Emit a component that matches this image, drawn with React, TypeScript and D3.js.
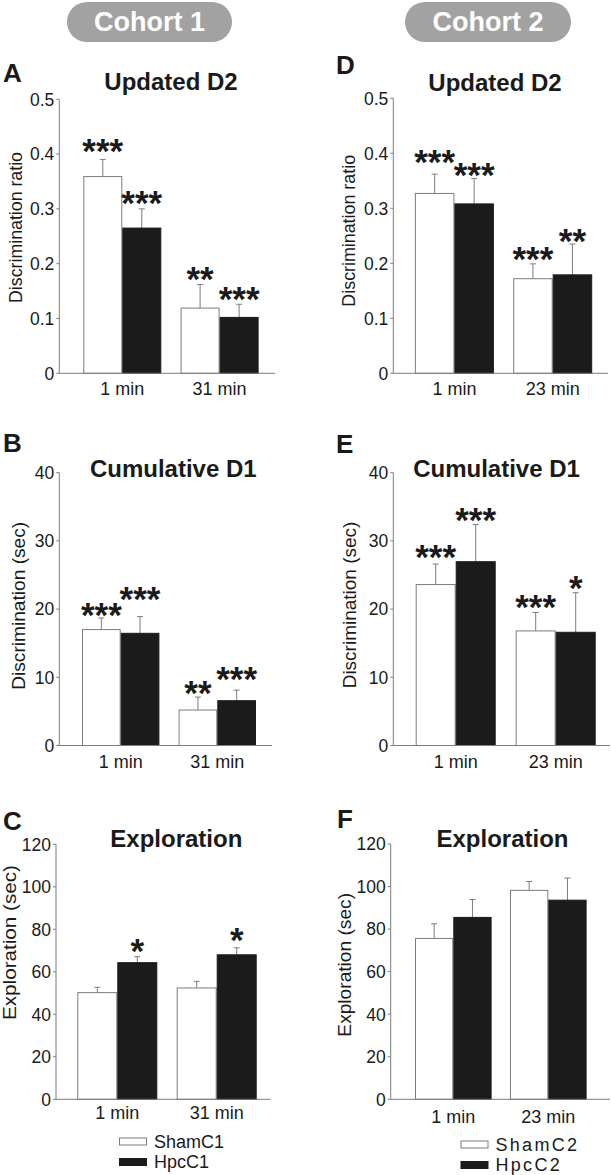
import React from "react";
import * as d3 from "d3";

// ---------- DATA ----------
const groupsCohort1 = ["1 min", "31 min"];
const groupsCohort2 = ["1 min", "23 min"];
const legendCohort1 = ["ShamC1", "HpcC1"];
const legendCohort2 = ["ShamC2", "HpcC2"];

// A: Updated D2 (cohort 1)
const shamA = [0.359, 0.119];
const shamErrA = [0.031, 0.043];
const hpcA = [0.265, 0.102];
const hpcErrA = [0.035, 0.024];
const shamSigA = ["***", "**"];
const hpcSigA = ["***", "***"];
const shamStarA = [0.4166, 0.183];
const hpcStarA = [0.3217, 0.1466];

// B: Cumulative D1 (cohort 1)
const shamB = [17.0, 5.2];
const shamErrB = [1.7, 1.9];
const hpcB = [16.45, 6.57];
const hpcErrB = [2.45, 1.55];
const shamSigB = ["***", "**"];
const hpcSigB = ["***", "***"];
const shamStarB = [20.0, 8.6];
const hpcStarB = [22.4, 10.7];

// C: Exploration (cohort 1)
const shamC = [50.2, 52.4];
const shamErrC = [2.5, 3.1];
const hpcC = [64.3, 68.0];
const hpcErrC = [2.8, 3.3];
const shamSigC = ["", ""];
const hpcSigC = ["*", "*"];
const shamStarC = [0, 0];
const hpcStarC = [72.6, 78.1];

// D: Updated D2 (cohort 2)
const shamD = [0.327, 0.172];
const shamErrD = [0.035, 0.027];
const hpcD = [0.308, 0.179];
const hpcErrD = [0.046, 0.056];
const shamSigD = ["***", "***"];
const hpcSigD = ["***", "**"];
const shamStarD = [0.395, 0.2195];
const hpcStarD = [0.371, 0.2524];

// E: Cumulative D1 (cohort 2)
const shamE = [23.6, 16.8];
const shamErrE = [3.0, 2.7];
const hpcE = [26.95, 16.6];
const hpcErrE = [5.45, 5.8];
const shamSigE = ["***", "***"];
const hpcSigE = ["***", "*"];
const shamStarE = [28.6, 21.2];
const hpcStarE = [34.0, 24.0];

// F: Exploration (cohort 2)
const shamF = [75.6, 98.2];
const shamErrF = [6.9, 4.2];
const hpcF = [85.5, 93.6];
const hpcErrF = [8.4, 10.4];
const shamSigF = ["", ""];
const hpcSigF = ["", ""];
const shamStarF = [0, 0];
const hpcStarF = [0, 0];

const ticksD2 = [0, 0.1, 0.2, 0.3, 0.4, 0.5];
const ticksD1 = [0, 10, 20, 30, 40];
const ticksExp = [0, 20, 40, 60, 80, 100, 120];

// ---------- STYLE ----------
const FONT = "'Liberation Sans', Arial, Helvetica, sans-serif";
const AXIS = "#7d7d7d";
const BLACK = "#1b1b1b";
const TEXT = "#1a1a1a";

type PanelCfg = {
  letter: string;
  letterX: number;
  letterY: number;
  title: string;
  titleX: number;
  titleY: number;
  axisX: number;
  axisEnd: number;
  y0: number;
  yTop: number;
  ticks: number[];
  fmt: (d: number) => string;
  yLabel: string;
  yLabelX: number;
  yLabelY: number;
  yLabelLen: number;
  groups: string[];
  xRange: [number, number];
  bw: number;
  sham: number[];
  shamErr: number[];
  hpc: number[];
  hpcErr: number[];
  shamSig: string[];
  hpcSig: string[];
  shamStar: number[];
  hpcStar: number[];
  xLabelDy: number;
};

const fmtD2 = (d: number) => (d === 0 ? "0" : d3.format(".1f")(d));
const fmtInt = (d: number) => d3.format("d")(d);

const panels: PanelCfg[] = [
  {
    letter: "A", letterX: 3, letterY: 82, title: "Updated D2", titleX: 171, titleY: 90,
    axisX: 59.3, axisEnd: 275, y0: 373.3, yTop: 99.3, ticks: ticksD2, fmt: fmtD2,
    yLabel: "Discrimination ratio", yLabelX: 22, yLabelY: 227.5, yLabelLen: 151,
    groups: groupsCohort1, xRange: [73.65, 268.25], bw: 39,
    sham: shamA, shamErr: shamErrA, hpc: hpcA, hpcErr: hpcErrA,
    shamSig: shamSigA, hpcSig: hpcSigA, shamStar: shamStarA, hpcStar: hpcStarA, xLabelDy: 22,
  },
  {
    letter: "B", letterX: 3, letterY: 452, title: "Cumulative D1", titleX: 173.3, titleY: 477,
    axisX: 59.3, axisEnd: 272, y0: 745.5, yTop: 472.7, ticks: ticksD1, fmt: fmtInt,
    yLabel: "Discrimination (sec)", yLabelX: 24.5, yLabelY: 605.8, yLabelLen: 168,
    groups: groupsCohort1, xRange: [72.4, 265.6], bw: 38.7,
    sham: shamB, shamErr: shamErrB, hpc: hpcB, hpcErr: hpcErrB,
    shamSig: shamSigB, hpcSig: hpcSigB, shamStar: shamStarB, hpcStar: hpcStarB, xLabelDy: 22.5,
  },
  {
    letter: "C", letterX: 3, letterY: 830, title: "Exploration", titleX: 176.3, titleY: 847,
    axisX: 56, axisEnd: 270.7, y0: 1099.3, yTop: 844.3, ticks: ticksExp, fmt: fmtInt,
    yLabel: "Exploration (sec)", yLabelX: 15.5, yLabelY: 942.5, yLabelLen: 155,
    groups: groupsCohort1, xRange: [67.6, 266.4], bw: 40,
    sham: shamC, shamErr: shamErrC, hpc: hpcC, hpcErr: hpcErrC,
    shamSig: shamSigC, hpcSig: hpcSigC, shamStar: shamStarC, hpcStar: hpcStarC, xLabelDy: 20,
  },
  {
    letter: "D", letterX: 336, letterY: 73.5, title: "Updated D2", titleX: 495, titleY: 90.7,
    axisX: 393.3, axisEnd: 608, y0: 373.3, yTop: 98.3, ticks: ticksD2, fmt: fmtD2,
    yLabel: "Discrimination ratio", yLabelX: 355, yLabelY: 230.8, yLabelLen: 151.7,
    groups: groupsCohort2, xRange: [405.25, 601.85], bw: 39.5,
    sham: shamD, shamErr: shamErrD, hpc: hpcD, hpcErr: hpcErrD,
    shamSig: shamSigD, hpcSig: hpcSigD, shamStar: shamStarD, hpcStar: hpcStarD, xLabelDy: 22,
  },
  {
    letter: "E", letterX: 336, letterY: 453, title: "Cumulative D1", titleX: 496.5, titleY: 477.3,
    axisX: 393.3, axisEnd: 610, y0: 745.5, yTop: 472.7, ticks: ticksD1, fmt: fmtInt,
    yLabel: "Discrimination (sec)", yLabelX: 356, yLabelY: 605, yLabelLen: 166.6,
    groups: groupsCohort2, xRange: [405.7, 605.7], bw: 40,
    sham: shamE, shamErr: shamErrE, hpc: hpcE, hpcErr: hpcErrE,
    shamSig: shamSigE, hpcSig: hpcSigE, shamStar: shamStarE, hpcStar: hpcStarE, xLabelDy: 22.5,
  },
  {
    letter: "F", letterX: 337, letterY: 828, title: "Exploration", titleX: 502.5, titleY: 847,
    axisX: 390.7, axisEnd: 610, y0: 1099.3, yTop: 844, ticks: ticksExp, fmt: fmtInt,
    yLabel: "Exploration (sec)", yLabelX: 351, yLabelY: 964.8, yLabelLen: 143.7,
    groups: groupsCohort2, xRange: [405.8, 595.8], bw: 38.3,
    sham: shamF, shamErr: shamErrF, hpc: hpcF, hpcErr: hpcErrF,
    shamSig: shamSigF, hpcSig: hpcSigF, shamStar: shamStarF, hpcStar: hpcStarF, xLabelDy: 23.4,
  },
];

const STAR_SIZE = 35;

function Panel({ p }: { p: PanelCfg }) {
  const y = d3.scaleLinear().domain([0, p.ticks[p.ticks.length - 1]]).range([p.y0, p.yTop]);
  const x = d3.scaleBand<string>().domain(p.groups).range(p.xRange).padding(0);
  const bars: { g: string; kind: "sham" | "hpc"; v: number; e: number; sig: string; star: number }[] = [];
  p.groups.forEach((g, i) => {
    bars.push({ g, kind: "sham", v: p.sham[i], e: p.shamErr[i], sig: p.shamSig[i], star: p.shamStar[i] });
    bars.push({ g, kind: "hpc", v: p.hpc[i], e: p.hpcErr[i], sig: p.hpcSig[i], star: p.hpcStar[i] });
  });
  const inner = (g: string) => {
    const c = (x(g) as number) + x.bandwidth() / 2;
    return d3.scaleBand<string>().domain(["sham", "hpc"]).range([c - p.bw, c + p.bw]).padding(0);
  };
  return (
    <g>
      <text x={p.letterX} y={p.letterY} fontFamily={FONT} fontWeight="bold" fontSize={26} fill={TEXT}>
        {p.letter}
      </text>
      <text x={p.titleX} y={p.titleY} textAnchor="middle" fontFamily={FONT} fontWeight="bold" fontSize={24} fill={TEXT}>
        {p.title}
      </text>
      {bars.map((b, i) => {
        const xs = inner(b.g);
        const bx = xs(b.kind) as number;
        const cx = bx + xs.bandwidth() / 2;
        const top = y(b.v);
        const et = y(b.v + b.e);
        return (
          <g key={i}>
            <line x1={cx} x2={cx} y1={top} y2={et} stroke={AXIS} strokeWidth={1} />
            <line x1={cx - 3} x2={cx + 3} y1={et} y2={et} stroke={AXIS} strokeWidth={1} />
            <rect
              x={bx + 0.5}
              y={top}
              width={xs.bandwidth() - 1}
              height={p.y0 - top}
              fill={b.kind === "sham" ? "#ffffff" : BLACK}
              stroke={b.kind === "sham" ? AXIS : BLACK}
              strokeWidth={1}
            />
            {b.sig ? (
              <text
                x={cx}
                y={y(b.star) + STAR_SIZE * 0.52}
                textAnchor="middle"
                fontFamily={FONT}
                fontWeight="bold"
                fontSize={STAR_SIZE}
                fill={TEXT}
              >
                {b.sig}
              </text>
            ) : null}
          </g>
        );
      })}
      <line x1={p.axisX} x2={p.axisX} y1={p.yTop} y2={p.y0} stroke={AXIS} strokeWidth={1} />
      <line x1={p.axisX} x2={p.axisEnd} y1={p.y0} y2={p.y0} stroke={AXIS} strokeWidth={1} />
      {p.ticks.map((t) => (
        <g key={t}>
          <line x1={p.axisX - 3} x2={p.axisX} y1={y(t)} y2={y(t)} stroke={AXIS} strokeWidth={1} />
          <text
            x={p.axisX - 5}
            y={y(t) + 6.3}
            textAnchor="end"
            fontFamily={FONT}
            fontSize={17.5}
            fill={TEXT}
          >
            {p.fmt(t)}
          </text>
        </g>
      ))}
      {p.groups.map((g) => (
        <text
          key={g}
          x={(x(g) as number) + x.bandwidth() / 2}
          y={p.y0 + p.xLabelDy}
          textAnchor="middle"
          fontFamily={FONT}
          fontSize={18}
          fill={TEXT}
        >
          {g}
        </text>
      ))}
      <text
        transform={`translate(${p.yLabelX},${p.yLabelY}) rotate(-90)`}
        textAnchor="middle"
        fontFamily={FONT}
        fontSize={17.5}
        fill={TEXT}
        textLength={p.yLabelLen}
        lengthAdjust="spacingAndGlyphs"
      >
        {p.yLabel}
      </text>
    </g>
  );
}

function Pill({ x0, x1, text }: { x0: number; x1: number; text: string }) {
  return (
    <g>
      <rect x={x0} y={2} width={x1 - x0} height={40} rx={20} ry={20} fill="#a2a2a2" />
      <text x={(x0 + x1) / 2} y={31} textAnchor="middle" fontFamily={FONT} fontWeight="bold" fontSize={27} fill="#ffffff">
        {text}
      </text>
    </g>
  );
}

function Legend({ x, y, names, spacing }: { x: number; y: number; names: string[]; spacing: number }) {
  return (
    <g>
      {names.map((n, i) => (
        <g key={n}>
          <rect
            x={x + 0.5}
            y={y + i * 20.5}
            width={27}
            height={7}
            fill={i === 0 ? "#ffffff" : BLACK}
            stroke={i === 0 ? AXIS : BLACK}
            strokeWidth={1}
          />
          <text
            x={x + 35}
            y={y + i * 20.5 + 9.5}
            fontFamily={FONT}
            fontSize={18}
            letterSpacing={spacing}
            fill={TEXT}
          >
            {n}
          </text>
        </g>
      ))}
    </g>
  );
}

export default function App() {
  return (
    <svg
      width={611}
      height={1175}
      viewBox="0 0 611 1175"
      style={{ position: "absolute", left: 0, top: 0, background: "#ffffff" }}
    >
      <rect x={0} y={0} width={611} height={1175} fill="#ffffff" />
      <Pill x0={67} x1={232} text="Cohort 1" />
      <Pill x0={405} x1={571} text="Cohort 2" />
      {panels.map((p) => (
        <Panel key={p.letter} p={p} />
      ))}
      <Legend x={119} y={1138} names={legendCohort1} spacing={0} />
      <Legend x={460.5} y={1141} names={legendCohort2} spacing={2.3} />
    </svg>
  );
}
